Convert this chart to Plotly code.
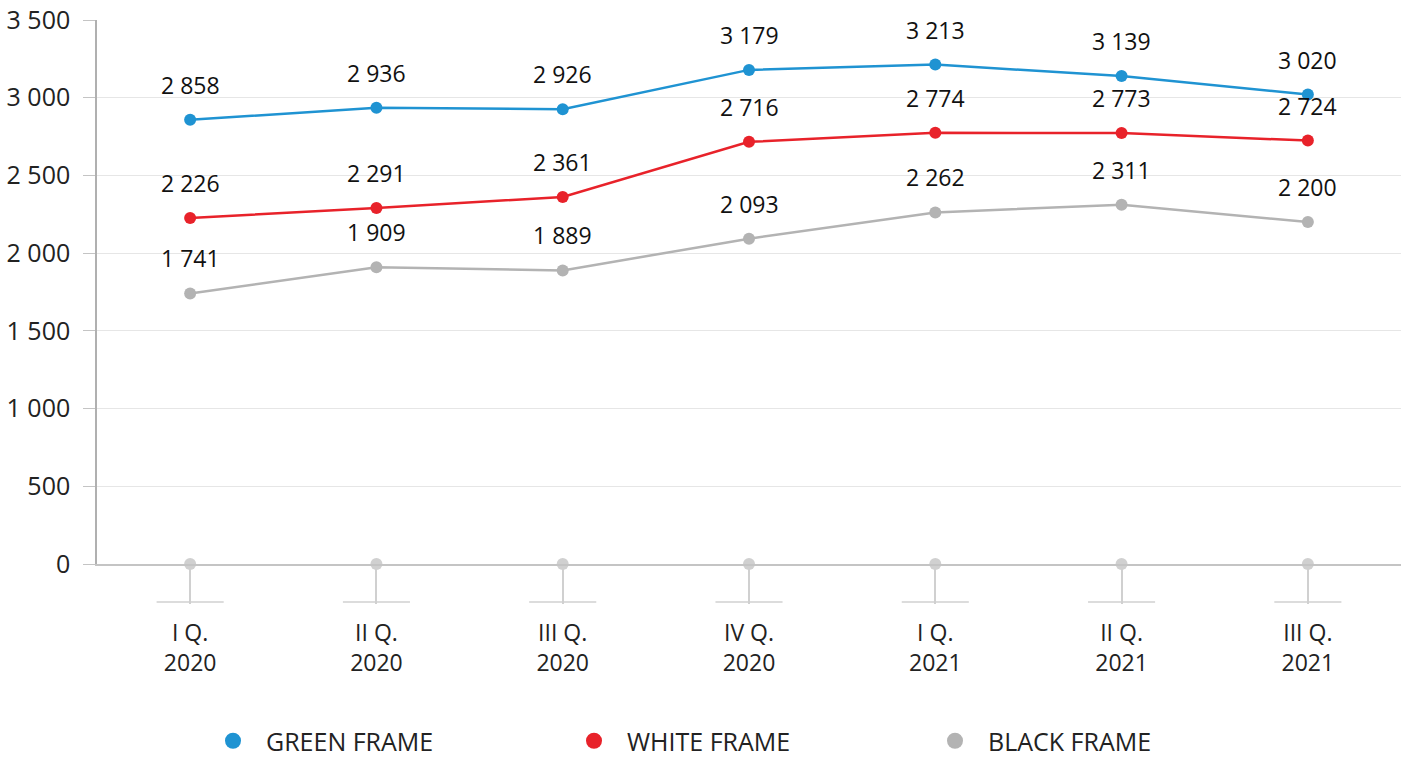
import plotly.graph_objects as go

categories = ["I Q.<br>2020", "II Q.<br>2020", "III Q.<br>2020", "IV Q.<br>2020",
              "I Q.<br>2021", "II Q.<br>2021", "III Q.<br>2021"]
green_frame = [2858, 2936, 2926, 3179, 3213, 3139, 3020]
white_frame = [2226, 2291, 2361, 2716, 2774, 2773, 2724]
black_frame = [1741, 1909, 1889, 2093, 2262, 2311, 2200]
zero_marks = [0, 0, 0, 0, 0, 0, 0]
y_ticks = [0, 500, 1000, 1500, 2000, 2500, 3000, 3500]

FONT = "Open Sans"
series = [
    ("GREEN FRAME", green_frame, "#1f93d2"),
    ("WHITE FRAME", white_frame, "#e8222a"),
    ("BLACK FRAME", black_frame, "#b3b3b3"),
]

fig = go.Figure()
fig.add_trace(go.Scatter(
    x=categories, y=zero_marks, mode="markers", cliponaxis=False,
    marker=dict(size=12, color="#d0d0d0"), showlegend=False, hoverinfo="skip"))

annotations = []
for name, vals, col in series:
    fig.add_trace(go.Scatter(
        x=categories, y=vals, mode="lines+markers", name=name,
        line=dict(color=col, width=2.5), marker=dict(size=12, color=col),
        cliponaxis=False, showlegend=False))
    # legend entry: dot only
    fig.add_trace(go.Scatter(
        x=[None], y=[None], mode="markers", name=name,
        marker=dict(size=26, color=col), showlegend=True))
    for c, v in zip(categories, vals):
        annotations.append(dict(
            x=c, y=v, text=f"{v:,}".replace(",", " "), showarrow=False,
            yshift=35, font=dict(family=FONT, size=23, color="#111111")))

shapes = []
for i in range(len(categories)):
    shapes.append(dict(type="line", xref="x", yref="paper",
                       x0=i - 0.18, x1=i + 0.18, y0=-0.07, y1=-0.07,
                       line=dict(color="#d0d0d0", width=1.5)))

fig.update_layout(
    width=1408, height=758,
    margin=dict(l=97, r=7, t=20, b=194),
    paper_bgcolor="white", plot_bgcolor="white",
    font=dict(family=FONT, size=23, color="#222222"),
    separators=", ",
    annotations=annotations, shapes=shapes,
    showlegend=True,
    legend=dict(orientation="h", xref="container", x=200 / 1408, xanchor="left",
                yref="container", y=1 - 741 / 758, yanchor="middle",
                font=dict(family=FONT, size=25, color="#222222"),
                entrywidth=290, itemsizing="trace", itemwidth=56),
    xaxis=dict(type="category", range=[-0.5, 6.5], showgrid=False,
               showline=True, linecolor="#c4c4c4", linewidth=1.5,
               ticks="outside", ticklen=38, tickcolor="#d0d0d0", tickwidth=1.5,
               ticklabelstandoff=10, automargin=False,
               tickfont=dict(family=FONT, size=23, color="#222222")),
    yaxis=dict(range=[0, 3500], tickvals=y_ticks, showgrid=True,
               gridcolor="#e6e6e6", gridwidth=1, zeroline=False,
               showline=True, linecolor="#b0b0b0", linewidth=1.5,
               ticks="outside", ticklen=12, tickcolor="#c4c4c4",
               tickformat=",d", ticklabelstandoff=8, automargin=False,
               tickfont=dict(family=FONT, size=25, color="#222222")),
)

fig.write_html("out.html", config={"displayModeBar": False},
               post_script="document.body.style.margin='0';")
